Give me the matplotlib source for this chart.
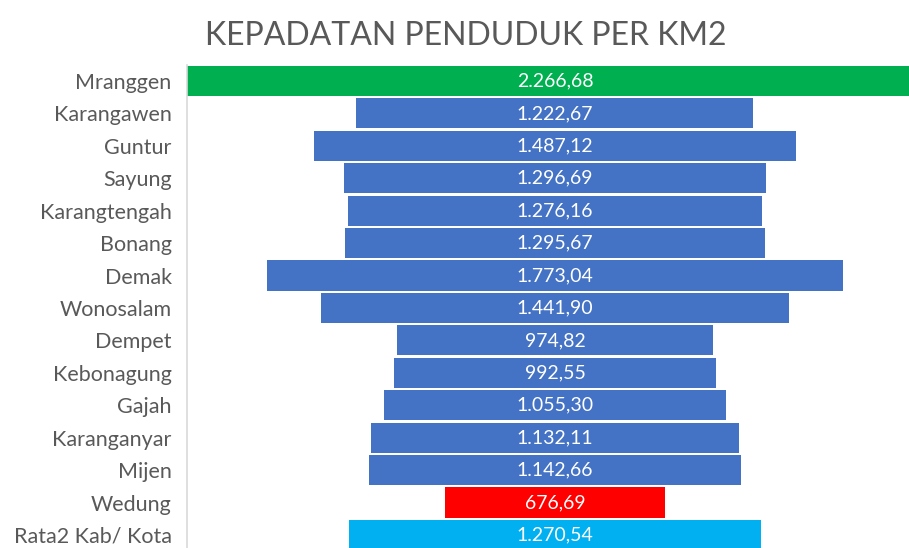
import matplotlib.pyplot as plt

kecamatan = ["Mranggen", "Karangawen", "Guntur", "Sayung", "Karangtengah", "Bonang",
             "Demak", "Wonosalam", "Dempet", "Kebonagung", "Gajah", "Karanganyar",
             "Mijen", "Wedung", "Rata2 Kab/ Kota"]
kepadatan = [2266.68, 1222.67, 1487.12, 1296.69, 1276.16, 1295.67,
             1773.04, 1441.90, 974.82, 992.55, 1055.30, 1132.11,
             1142.66, 676.69, 1270.54]
warna = ["#00B050"] + ["#4472C4"] * 12 + ["#FF0000", "#00B0F0"]


def fmt(v):
    s = f"{v:,.2f}"
    return s.replace(",", "X").replace(".", ",").replace("X", ".")


plt.rcParams['font.family'] = ['Lato', 'DejaVu Sans']

fig = plt.figure(figsize=(9.09, 5.48), dpi=100)
ax = fig.add_axes([0.2057, -0.0058, 0.8097, 0.8876])

pos = list(range(len(kecamatan)))
lefts = [-v / 2 for v in kepadatan]
ax.barh(pos, kepadatan, left=lefts, height=0.93, color=warna)

for y, v in zip(pos, kepadatan):
    ax.text(0, y, fmt(v), ha="center", va="center", color="white", fontsize=14)

mx = max(kepadatan)
ax.set_xlim(-mx / 2, mx / 2)
ax.set_ylim(len(kecamatan) - 0.5, -0.5)
ax.set_yticks(pos)
ax.set_yticklabels(kecamatan, fontsize=15.5, color="#595959")
ax.tick_params(axis="y", length=0, pad=11)
ax.set_xticks([])
for s in ["top", "right", "bottom"]:
    ax.spines[s].set_visible(False)
ax.spines["left"].set_color("#D9D9D9")
ax.spines["left"].set_linewidth(1.2)

fig.text(0.512, 0.935, "KEPADATAN PENDUDUK PER KM2", ha="center", va="center",
         fontsize=23, color="#595959")

fig.savefig("out.png", dpi=100)
